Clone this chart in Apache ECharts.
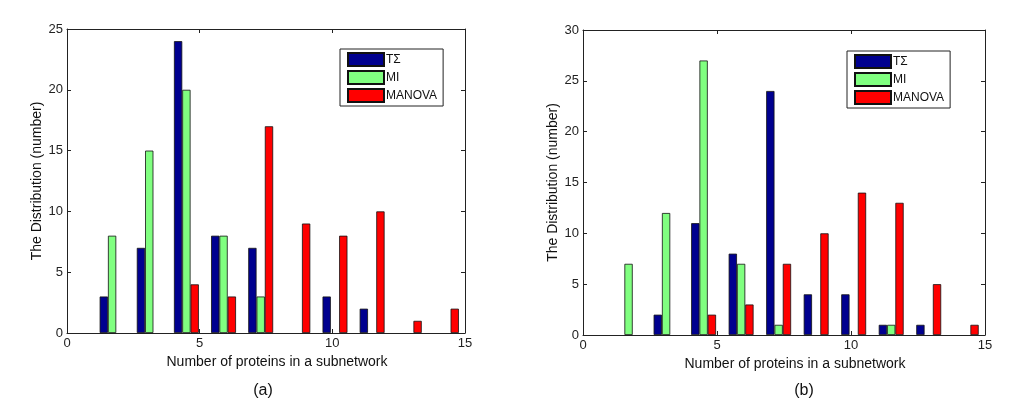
<!DOCTYPE html>
<html>
<head>
<meta charset="utf-8">
<script src="https://cdn.jsdelivr.net/npm/echarts@6/dist/echarts.min.js"></script>
<style>html,body{margin:0;padding:0;background:#fff}#c{width:1034px;height:401px}</style>
</head>
<body>
<div id="c"></div>
<script>
const binCenters = [1.7, 3.1, 4.5, 5.9, 7.3, 8.7, 10.1, 11.5, 12.9, 14.3];
const seriesNames = ['TΣ', 'MI', 'MANOVA'];
const aTS     = [3, 7, 24, 8, 7, 0, 3, 2, 0, 0];
const aMI     = [8, 15, 20, 8, 3, 0, 0, 0, 0, 0];
const aMANOVA = [0, 0, 4, 3, 17, 9, 8, 10, 1, 2];
const bTS     = [0, 2, 11, 8, 24, 4, 4, 1, 1, 0];
const bMI     = [7, 12, 27, 7, 1, 0, 0, 1, 0, 0];
const bMANOVA = [0, 0, 2, 3, 7, 10, 14, 13, 5, 1];
const xTicks = [0, 5, 10, 15];
const panelLabels = ['(a)', '(b)'];
const xName = 'Number of proteins in a subnetwork';
const yName = 'The Distribution (number)';

const colors = ['#00008f', '#80ff80', '#ff0000'];
const font = 'Liberation Sans, Arial, sans-serif';

function pairs(vals) { return vals.map((v, i) => [binCenters[i], v === 0 ? '-' : v]); }

const grids = [
  { left: 67, right: 569, top: 29, bottom: 68 },
  { left: 583, right: 49, top: 30, bottom: 66 }
];
const yMax = [25, 30];
const yGap = [23, 22];

const xAxes = [], yAxes = [], series = [];
grids.forEach((g, gi) => {
  xAxes.push({
    type: 'value', gridIndex: gi, min: 0, max: 15, interval: 5,
    name: xName, nameLocation: 'middle', nameGap: 20,
    nameTextStyle: { fontFamily: font, fontSize: 14, color: '#111', padding: [0, 0, 0, 22] },
    axisLine: { show: true, onZero: false, lineStyle: { color: '#222' } },
    axisTick: { show: true, inside: true, length: 4, lineStyle: { color: '#222' } },
    axisLabel: { fontFamily: font, fontSize: 13, color: '#222', margin: 4 },
    splitLine: { show: false }
  });
  xAxes.push({
    type: 'value', gridIndex: gi, min: 0, max: 15, interval: 5, position: 'top',
    axisLine: { show: true, onZero: false, lineStyle: { color: '#222' } },
    axisTick: { show: true, inside: true, length: 4, lineStyle: { color: '#222' } },
    axisLabel: { show: false }, splitLine: { show: false }
  });
  yAxes.push({
    type: 'value', gridIndex: gi, min: 0, max: yMax[gi], interval: 5,
    name: yName, nameLocation: 'middle', nameGap: yGap[gi],
    nameTextStyle: { fontFamily: font, fontSize: 14, color: '#111' },
    axisLine: { show: true, onZero: false, lineStyle: { color: '#222' } },
    axisTick: { show: true, inside: true, length: 4, lineStyle: { color: '#222' } },
    axisLabel: { fontFamily: font, fontSize: 13, color: '#222', margin: 4 },
    splitLine: { show: false }
  });
  yAxes.push({
    type: 'value', gridIndex: gi, min: 0, max: yMax[gi], interval: 5, position: 'right',
    axisLine: { show: true, onZero: false, lineStyle: { color: '#222' } },
    axisTick: { show: true, inside: true, length: 4, lineStyle: { color: '#222' } },
    axisLabel: { show: false }, splitLine: { show: false }
  });
});

const dataSets = [[aTS, aMI, aMANOVA], [bTS, bMI, bMANOVA]];
dataSets.forEach((set, gi) => {
  set.forEach((vals, si) => {
    series.push({
      type: 'bar', name: seriesNames[si],
      xAxisIndex: gi * 2, yAxisIndex: gi * 2,
      barWidth: 8.3, barGap: '0%',
      itemStyle: { color: colors[si], borderColor: '#111', borderWidth: 0.8 },
      emphasis: { disabled: true },
      data: pairs(vals)
    });
  });
});

const legendCommon = {
  orient: 'vertical', itemWidth: 36, itemHeight: 13, itemGap: 3,
  borderColor: '#222', borderWidth: 1, padding: [3, 6, 3, 7],
  backgroundColor: '#fff', icon: 'rect', selectedMode: false,
  textStyle: { fontFamily: font, fontSize: 12, color: '#111', padding: [0, 0, 0, -3], lineHeight: 14 },
  data: seriesNames
};

const option = {
  animation: false,
  color: colors,
  grid: grids,
  xAxis: xAxes,
  yAxis: yAxes,
  legend: [
    Object.assign({}, legendCommon, { left: 340, top: 49 }),
    Object.assign({}, legendCommon, { left: 847, top: 51 })
  ],
  title: [
    { text: panelLabels[0], left: 258, top: 378, textAlign: 'center', textStyle: { fontFamily: font, fontSize: 16, fontWeight: 'normal', color: '#111' } },
    { text: panelLabels[1], left: 799, top: 378, textAlign: 'center', textStyle: { fontFamily: font, fontSize: 16, fontWeight: 'normal', color: '#111' } }
  ],
  series: series
};

const chart = echarts.init(document.getElementById('c'), null, { renderer: 'canvas' });
chart.setOption(option);
</script>
</body>
</html>
